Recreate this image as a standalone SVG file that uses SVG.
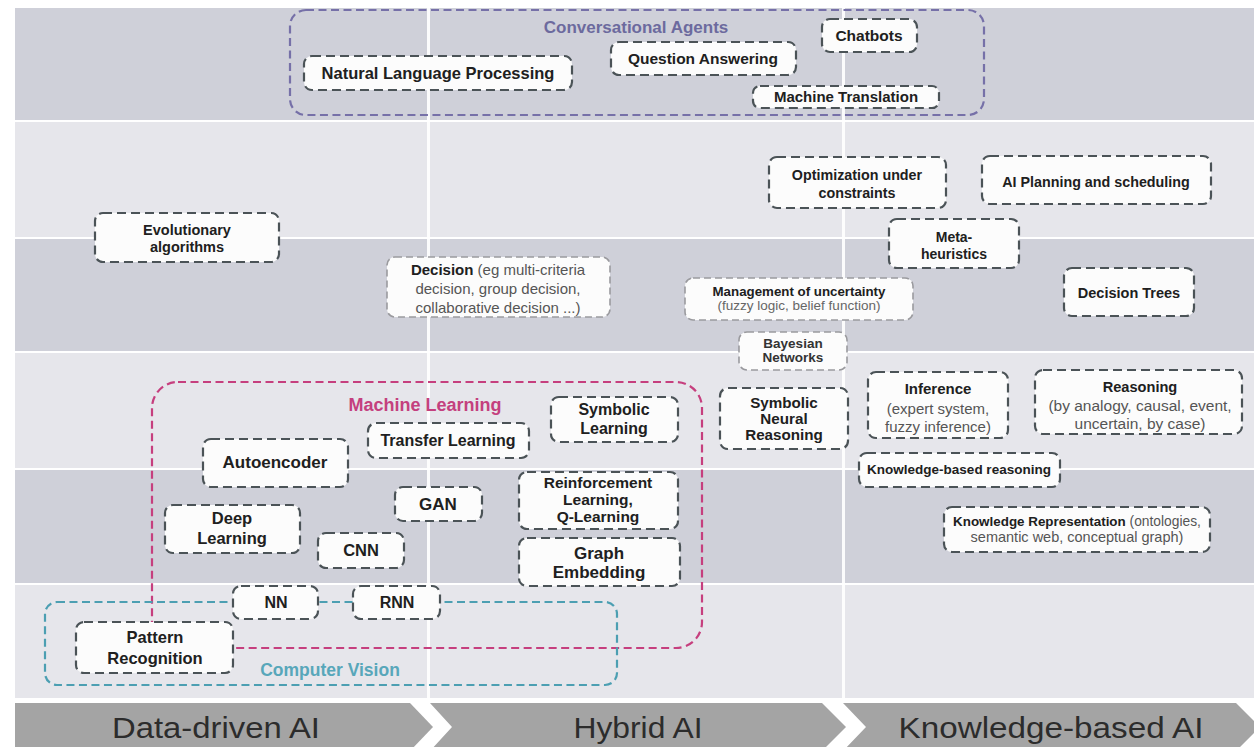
<svg xmlns="http://www.w3.org/2000/svg" width="1254" height="747" viewBox="0 0 1254 747">
  <style>
    .bd{fill:#cfd0d9}
    .bl{fill:#e6e6eb}
    .vsep{fill:#ffffff;opacity:0.9}
    .node rect{fill:#fcfcfc;stroke:#4b5357;stroke-width:2.2;stroke-dasharray:9 5}
    .node.soft rect{stroke:#9a9a9e;stroke-width:1.6;stroke-dasharray:7 4}
    text{font-family:"Liberation Sans",Arial,Helvetica,sans-serif;text-anchor:middle;fill:#202020}
    .b{font-weight:bold}
    .r{font-weight:normal;fill:#555}
    .grp{fill:none;stroke-width:2.2;stroke-dasharray:8 4.5}
    .arrow{fill:#a4a4a4}
    .band-label{font-size:29px;fill:#2c2c2c}
  </style>

  <!-- horizontal bands -->
  <g id="background">
    <rect class="bd" x="15" y="8" width="1239" height="112"/>
    <rect class="bl" x="15" y="122" width="1239" height="115"/>
    <rect class="bd" x="15" y="239" width="1239" height="112"/>
    <rect class="bl" x="15" y="353" width="1239" height="115"/>
    <rect class="bd" x="15" y="470" width="1239" height="113"/>
    <rect class="bl" x="15" y="585" width="1239" height="113"/>
    <rect class="vsep" x="427" y="8" width="3" height="690"/>
    <rect class="vsep" x="842" y="8" width="3" height="690"/>
  </g>

  <!-- bottom chevron bar -->
  <g id="axis">
    <polygon class="arrow" points="15,703 410,703 433,727 410,751 15,751"/>
    <polygon class="arrow" points="430,703 822,703 846,727 822,751 430,751 452,727"/>
    <polygon class="arrow" points="843,703 1236,703 1260,727 1236,751 843,751 866,727"/>
    <text class="band-label" x="216" y="738" textLength="208" lengthAdjust="spacingAndGlyphs">Data-driven AI</text>
    <text class="band-label" x="638" y="738" textLength="129" lengthAdjust="spacingAndGlyphs">Hybrid AI</text>
    <text class="band-label" x="1051" y="738" textLength="305" lengthAdjust="spacingAndGlyphs">Knowledge-based AI</text>
  </g>

  <!-- grouping outlines -->
  <g id="connectors">
    <rect class="grp" x="290" y="10" width="694" height="105" rx="16" stroke="#7670a8" stroke-width="2"/>
    <rect class="grp" x="152" y="382" width="550" height="266" rx="26" stroke="#c63f7e"/>
    <rect class="grp" x="45" y="602" width="572" height="83" rx="12" stroke="#4c9fb2"/>
  </g>

  <g id="group-labels">
    <text class="b" x="636" y="33" font-size="17" fill="#6c6a9e" style="fill:#6c6a9e">Conversational Agents</text>
    <text class="b" x="425" y="411" font-size="18" style="fill:#c4407e">Machine Learning</text>
    <text class="b" x="330" y="676" font-size="17.5" style="fill:#58a7ba">Computer Vision</text>
  </g>

  <!-- nodes -->
  <g id="nlp" class="node"><rect x="304" y="56" width="268" height="34" rx="8"/>
    <text class="b" x="438" y="79" font-size="16.5">Natural Language Processing</text></g>
  <g id="qa" class="node"><rect x="611" y="42" width="185" height="33" rx="8"/>
    <text class="b" x="703" y="64" font-size="15.5">Question Answering</text></g>
  <g id="chatbots" class="node"><rect x="822" y="19" width="95" height="33" rx="8"/>
    <text class="b" x="869" y="41" font-size="15.5">Chatbots</text></g>
  <g id="mt" class="node"><rect x="753" y="86" width="186" height="22" rx="7"/>
    <text class="b" x="846" y="102" font-size="15">Machine Translation</text></g>

  <g id="optim" class="node"><rect x="769" y="157" width="177" height="51" rx="8"/>
    <text class="b" x="857" y="180" font-size="14.3">Optimization under</text>
    <text class="b" x="857" y="198" font-size="14.3">constraints</text></g>
  <g id="planning" class="node"><rect x="982" y="156" width="229" height="48" rx="8"/>
    <text class="b" x="1096" y="187" font-size="14.3">AI Planning and scheduling</text></g>
  <g id="evolutionary" class="node"><rect x="95" y="213" width="184" height="49" rx="8"/>
    <text class="b" x="187" y="235" font-size="14.5">Evolutionary</text>
    <text class="b" x="187" y="252" font-size="14.5">algorithms</text></g>
  <g id="metaheuristics" class="node"><rect x="889" y="219" width="130" height="49" rx="8"/>
    <text class="b" x="954" y="242" font-size="14">Meta-</text>
    <text class="b" x="954" y="259" font-size="14">heuristics</text></g>

  <g id="decision" class="node soft"><rect x="387" y="257" width="223" height="60" rx="8"/>
    <text x="498" y="275" font-size="15"><tspan class="b">Decision</tspan><tspan class="r"> (eg multi-criteria</tspan></text>
    <text class="r" x="498" y="294" font-size="15">decision, group decision,</text>
    <text class="r" x="498" y="313" font-size="15">collaborative decision ...)</text></g>
  <g id="uncertainty" class="node soft"><rect x="685" y="278" width="228" height="42" rx="8"/>
    <text class="b" x="799" y="296" font-size="13.3">Management of uncertainty</text>
    <text class="r" x="799" y="310" font-size="13.5" style="fill:#666">(fuzzy logic, belief function)</text></g>
  <g id="bayesian" class="node soft"><rect x="739" y="332" width="108" height="38" rx="8"/>
    <text class="b" x="793" y="348" font-size="13.5" style="fill:#333">Bayesian</text>
    <text class="b" x="793" y="362" font-size="13.5" style="fill:#333">Networks</text></g>
  <g id="decision-trees" class="node"><rect x="1064" y="268" width="130" height="48" rx="8"/>
    <text class="b" x="1129" y="298" font-size="14.5">Decision Trees</text></g>

  <g id="symbolic-neural" class="node"><rect x="720" y="388" width="128" height="61" rx="8"/>
    <text class="b" x="784" y="408" font-size="15.2">Symbolic</text>
    <text class="b" x="784" y="424" font-size="15.2">Neural</text>
    <text class="b" x="784" y="440" font-size="15.2">Reasoning</text></g>
  <g id="inference" class="node"><rect x="868" y="372" width="140" height="66" rx="8"/>
    <text class="b" x="938" y="394" font-size="15">Inference</text>
    <text class="r" x="938" y="414" font-size="15">(expert system,</text>
    <text class="r" x="938" y="432" font-size="15">fuzzy inference)</text></g>
  <g id="reasoning" class="node"><rect x="1035" y="370" width="207" height="64" rx="8"/>
    <text class="b" x="1140" y="392" font-size="14.6">Reasoning</text>
    <text class="r" x="1140" y="411" font-size="15.5">(by analogy, causal, event,</text>
    <text class="r" x="1140" y="429" font-size="15.5">uncertain, by case)</text></g>
  <g id="kb-reasoning" class="node"><rect x="859" y="453" width="201" height="34" rx="8"/>
    <text class="b" x="959" y="474" font-size="13.5">Knowledge-based reasoning</text></g>
  <g id="kr" class="node"><rect x="944" y="507" width="266" height="45" rx="8"/>
    <text x="1077" y="526" font-size="13.4"><tspan class="b">Knowledge Representation</tspan><tspan class="r" font-size="13.8"> (ontologies,</tspan></text>
    <text class="r" x="1077" y="542" font-size="14.5">semantic web, conceptual graph)</text></g>

  <g id="symbolic-learning" class="node"><rect x="551" y="397" width="127" height="45" rx="8"/>
    <text class="b" x="614" y="415" font-size="16">Symbolic</text>
    <text class="b" x="614" y="434" font-size="16">Learning</text></g>
  <g id="transfer" class="node"><rect x="368" y="423" width="161" height="35" rx="8"/>
    <text class="b" x="448" y="446" font-size="16">Transfer Learning</text></g>
  <g id="autoencoder" class="node"><rect x="203" y="439" width="145" height="48" rx="8"/>
    <text class="b" x="275" y="468" font-size="17">Autoencoder</text></g>
  <g id="gan" class="node"><rect x="395" y="487" width="87" height="34" rx="8"/>
    <text class="b" x="438" y="510" font-size="17">GAN</text></g>
  <g id="reinforcement" class="node"><rect x="519" y="472" width="159" height="57" rx="8"/>
    <text class="b" x="598" y="488" font-size="15.5">Reinforcement</text>
    <text class="b" x="598" y="505" font-size="15.5">Learning,</text>
    <text class="b" x="598" y="522" font-size="15.5">Q-Learning</text></g>
  <g id="graph-embedding" class="node"><rect x="519" y="538" width="161" height="48" rx="8"/>
    <text class="b" x="599" y="559" font-size="17">Graph</text>
    <text class="b" x="599" y="578" font-size="17">Embedding</text></g>
  <g id="deep-learning" class="node"><rect x="165" y="505" width="135" height="48" rx="8"/>
    <text class="b" x="232" y="524" font-size="16.5">Deep</text>
    <text class="b" x="232" y="544" font-size="16.5">Learning</text></g>
  <g id="cnn" class="node"><rect x="318" y="533" width="86" height="35" rx="8"/>
    <text class="b" x="361" y="556" font-size="16.5">CNN</text></g>
  <g id="nn" class="node"><rect x="233" y="586" width="85" height="33" rx="8"/>
    <text class="b" x="276" y="608" font-size="16">NN</text></g>
  <g id="rnn" class="node"><rect x="353" y="586" width="87" height="33" rx="8"/>
    <text class="b" x="397" y="608" font-size="16">RNN</text></g>
  <g id="pattern" class="node"><rect x="76" y="622" width="157" height="51" rx="8"/>
    <text class="b" x="155" y="643" font-size="16.5">Pattern</text>
    <text class="b" x="155" y="664" font-size="16.5">Recognition</text></g>
</svg>
